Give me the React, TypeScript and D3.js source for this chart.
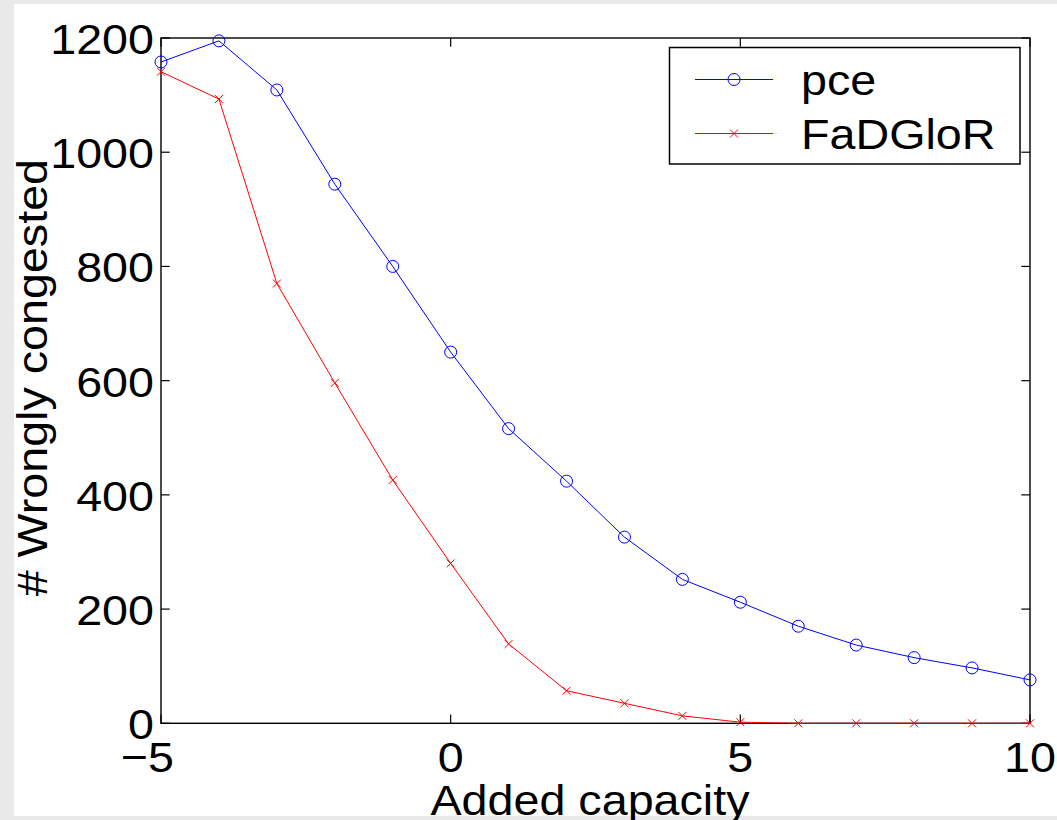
import React from "react";
import * as d3 from "d3";

const xValues = [-5, -4, -3, -2, -1, 0, 1, 2, 3, 4, 5, 6, 7, 8, 9, 10];
const pceValues = [1158, 1195, 1109, 944, 800, 650, 516, 424, 326, 252, 212, 170, 137, 115, 97, 76];
const fadgValues = [1141, 1093, 770, 596, 426, 280, 139, 57, 35, 13, 2, 0, 0, 0, 0, 0];
const xTicks = [-5, 0, 5, 10];
const yTicks = [0, 200, 400, 600, 800, 1000, 1200];
const seriesNames = ["pce", "FaDGloR"];
const xLabel = "Added capacity";
const yLabel = "# Wrongly congested";

const W = 1057;
const H = 820;
const FONT = "'Liberation Sans', Arial, Helvetica, sans-serif";
const FS = 43;
const SX = 1.085;

function T(props: {
  x: number;
  y: number;
  anchor?: "start" | "middle" | "end";
  rotate?: number;
  children: React.ReactNode;
}) {
  const { x, y, anchor = "start", rotate = 0, children } = props;
  return (
    <g transform={`translate(${x},${y}) rotate(${rotate}) scale(${SX},1)`}>
      <text x={0} y={0} fontSize={FS} textAnchor={anchor} fill="#000">
        {children}
      </text>
    </g>
  );
}

export default function App() {
  const left = 161, right = 1030, top = 38, bottom = 723.3;
  const x = d3.scaleLinear().domain([-5, 10]).range([left, right]);
  const y = d3.scaleLinear().domain([0, 1200]).range([bottom, top]);
  const line = d3
    .line<number>()
    .x((_, i) => x(xValues[i]))
    .y((d) => y(d));
  const tl = 8.7;
  const blue = "#0000ff";
  const red = "#ff0000";

  const cross = (cx: number, cy: number, s: number, key?: any) => (
    <path
      key={key}
      d={`M${cx - s},${cy - s}L${cx + s},${cy + s}M${cx - s},${cy + s}L${cx + s},${cy - s}`}
      stroke={red}
      strokeWidth={1}
      fill="none"
    />
  );

  const lg = { x0: 669.5, y0: 47.5, x1: 1020, y1: 164 };

  return (
    <svg
      width={W}
      height={H}
      style={{ position: "absolute", left: 0, top: 0 }}
      fontFamily={FONT}
    >
      <rect x={0} y={0} width={W} height={H} fill="#e9e9e9" />
      <rect x={14} y={4} width={W - 14} height={812} fill="#ffffff" />

      {/* axes box */}
      <rect
        x={left}
        y={top}
        width={right - left}
        height={bottom - top}
        fill="none"
        stroke="#000"
        strokeWidth={1.4}
      />
      {/* x ticks */}
      {xTicks.map((t) => (
        <g key={"xt" + t}>
          <line x1={x(t)} x2={x(t)} y1={bottom} y2={bottom - tl} stroke="#000" strokeWidth={1.2} />
          <line x1={x(t)} x2={x(t)} y1={top} y2={top + tl} stroke="#000" strokeWidth={1.2} />
          <T
            x={x(t) + (t < 0 ? String(Math.abs(t)).length * 13 : 0)}
            y={bottom + 49}
            anchor={t < 0 ? "end" : "middle"}
          >
            {t < 0 ? "\u2212" + Math.abs(t) : String(t)}
          </T>
        </g>
      ))}
      {/* y ticks */}
      {yTicks.map((t) => (
        <g key={"yt" + t}>
          <line x1={left} x2={left + tl} y1={y(t)} y2={y(t)} stroke="#000" strokeWidth={1.2} />
          <line x1={right} x2={right - tl} y1={y(t)} y2={y(t)} stroke="#000" strokeWidth={1.2} />
          <T x={154} y={y(t) + 16} anchor="end">
            {String(t)}
          </T>
        </g>
      ))}

      {/* series lines */}
      <path d={line(pceValues) || ""} fill="none" stroke={blue} strokeWidth={1} />
      <path d={line(fadgValues) || ""} fill="none" stroke={red} strokeWidth={1} />
      {pceValues.map((v, i) => (
        <circle key={"pc" + i} cx={x(xValues[i])} cy={y(v)} r={6} fill="none" stroke={blue} strokeWidth={1} />
      ))}
      {fadgValues.map((v, i) => cross(x(xValues[i]), y(v), 4, "fx" + i))}

      {/* axis labels */}
      <T x={590} y={814.5} anchor="middle">
        {xLabel}
      </T>
      <T x={47} y={(top + bottom) / 2 - 3} anchor="middle" rotate={-90}>
        {yLabel}
      </T>

      {/* legend */}
      <rect
        x={lg.x0}
        y={lg.y0}
        width={lg.x1 - lg.x0}
        height={lg.y1 - lg.y0}
        fill="#fff"
        stroke="#000"
        strokeWidth={1.5}
      />
      <line x1={695} x2={773} y1={79.5} y2={79.5} stroke={blue} strokeWidth={1} />
      <circle cx={734} cy={79.5} r={6} fill="none" stroke={blue} strokeWidth={1} />
      <T x={801} y={95}>
        {seriesNames[0]}
      </T>
      <line x1={695} x2={773} y1={133.5} y2={133.5} stroke={red} strokeWidth={1} />
      {cross(734, 133.5, 4)}
      <T x={801} y={149}>
        {seriesNames[1]}
      </T>
    </svg>
  );
}
